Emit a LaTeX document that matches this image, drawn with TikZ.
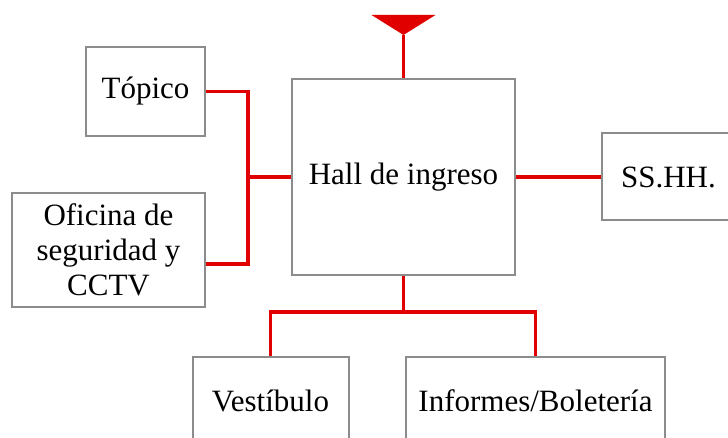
\documentclass[tikz,border=0pt]{standalone}
\usepackage{fontspec}
\setmainfont{Liberation Serif}
\usetikzlibrary{positioning,calc}
\definecolor{linkred}{RGB}{224,0,0}
\definecolor{boxgray}{RGB}{140,140,140}
\tikzset{zone/.style={draw=boxgray,line width=1pt,align=center,inner sep=2pt,
    font=\fontsize{15.5}{17.5}\selectfont},
  link/.style={draw=linkred,line width=1.6pt}}

\begin{document}
\begin{tikzpicture}[x=0.5pt, y=0.5pt]
\useasboundingbox (0,0) rectangle (728,438);
\clip (0,0) rectangle (728,438);
\node[zone, minimum width=111.5pt, minimum height=98pt] (hall) at (403.5,261) {Hall de ingreso};
\node[zone, minimum width=59.5pt, minimum height=44.5pt] (topico) at (145.5,346.5) {Tópico};
\node[zone, minimum width=96.5pt, minimum height=57pt] (oficina) at (108.5,188) {Oficina de\\
  seguridad y\\CCTV};
\node[zone, minimum width=66.5pt, minimum height=43.5pt] (sshh) at (668.5,261) {SS.HH.};
\node[zone, minimum width=78pt, minimum height=44pt] (vest) at (270.5,37) {Vestíbulo};
\node[zone, minimum width=129.5pt, minimum height=44pt] (info) at (535.5,37) {Informes/Boletería};
\coordinate (tip) at (403.5,403);
\coordinate (lbus) at (248,261);
\coordinate (bbus) at (403.5,126);
\fill[linkred] (tip) -- ++(-32,20) -- ++(64,0) -- cycle;
\draw[link] (hall.north) -- (tip);
\draw[link] (topico.east) -| (lbus) |- ([yshift=-7pt]oficina.east);
\draw[link] (lbus) -- (hall.west);
\draw[link] (hall.east) -- (sshh.west);
\draw[link] (hall.south) -- (bbus);
\draw[link] (vest.north) |- (bbus) -| (info.north);
\end{tikzpicture}
\end{document}
